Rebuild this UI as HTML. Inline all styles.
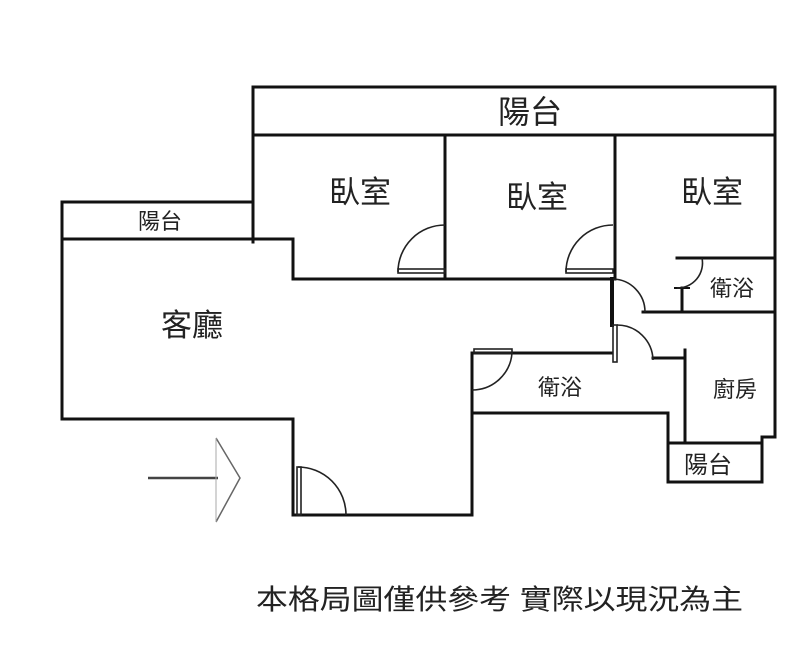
<!DOCTYPE html>
<html><head><meta charset="utf-8"><style>
html,body{margin:0;padding:0;background:#fff;}
svg{display:block;}
text{font-family:"Liberation Sans","Noto Sans CJK TC",sans-serif;fill:#222;}
</style></head><body>
<svg width="800" height="663" viewBox="0 0 800 663" xmlns="http://www.w3.org/2000/svg">
<g stroke="#111" stroke-width="3" fill="none" stroke-linecap="square">
<polyline points="253,242 253,87 775,87 775,437 762,437 762,482 668,482 668,443"/>
<line x1="253" y1="135" x2="775" y2="135"/>
<polyline points="253,202 62,202 62,419 293,419 293,515 472,515 472,413 668,413 668,443 762,443"/>
<polyline points="62,239 293,239 293,279 612,279"/>
<line x1="445" y1="135" x2="445" y2="279"/>
<line x1="615" y1="135" x2="615" y2="279"/>
<line x1="612" y1="279" x2="612" y2="325" stroke-width="4"/>
<line x1="677" y1="258" x2="775" y2="258"/>
<line x1="643" y1="312" x2="775" y2="312"/>
<line x1="682" y1="288" x2="682" y2="312"/>
<line x1="675" y1="288" x2="689" y2="288" stroke-width="2"/>
<line x1="472" y1="353" x2="612" y2="353"/>
<line x1="472" y1="353" x2="472" y2="413"/>
<polyline points="653,358 685,358"/>
<line x1="685" y1="350" x2="685" y2="443"/>
</g>
<g stroke="#222" stroke-width="1.6" fill="none">
<path d="M398,272 A47,47 0 0 1 445,225"/>
<rect x="398" y="269" width="47" height="4"/>
<path d="M566,272 A47,47 0 0 1 613,225"/>
<rect x="566" y="269" width="47" height="4"/>
<path d="M613,279 A33,33 0 0 1 645,312"/>
<path d="M702,258 A25,25 0 0 1 677,288"/>
<path d="M617,325 A36,36 0 0 1 653,360"/>
<rect x="613" y="325" width="4" height="37"/>
<path d="M512,353 A40,40 0 0 1 472,390"/>
<rect x="474" y="349" width="38" height="4"/>
<path d="M298,467 A48,48 0 0 1 346,515"/>
<rect x="297" y="467" width="4" height="48"/>
</g>
<line x1="148" y1="478" x2="218" y2="478" stroke="#444" stroke-width="2.5"/>
<polyline points="216,438 240,478 216,522" stroke="#666" stroke-width="1.5" fill="none"/>
<line x1="216" y1="438" x2="216" y2="522" stroke="#aaa" stroke-width="1"/>
<text x="530" y="123" font-size="32" text-anchor="middle">陽台</text>
<text x="160" y="229" font-size="22" text-anchor="middle">陽台</text>
<text x="360" y="203" font-size="31" text-anchor="middle">臥室</text>
<text x="537" y="208" font-size="31" text-anchor="middle">臥室</text>
<text x="712" y="203" font-size="31" text-anchor="middle">臥室</text>
<text x="192" y="336" font-size="31" text-anchor="middle">客廳</text>
<text x="732" y="296" font-size="22" text-anchor="middle">衛浴</text>
<text x="560" y="395" font-size="22" text-anchor="middle">衛浴</text>
<text x="735" y="397" font-size="22" text-anchor="middle">廚房</text>
<text x="708" y="473" font-size="24" text-anchor="middle">陽台</text>
<text x="256" y="609" font-size="28" textLength="487" lengthAdjust="spacingAndGlyphs">本格局圖僅供參考 實際以現況為主</text>
</svg>
</body></html>
